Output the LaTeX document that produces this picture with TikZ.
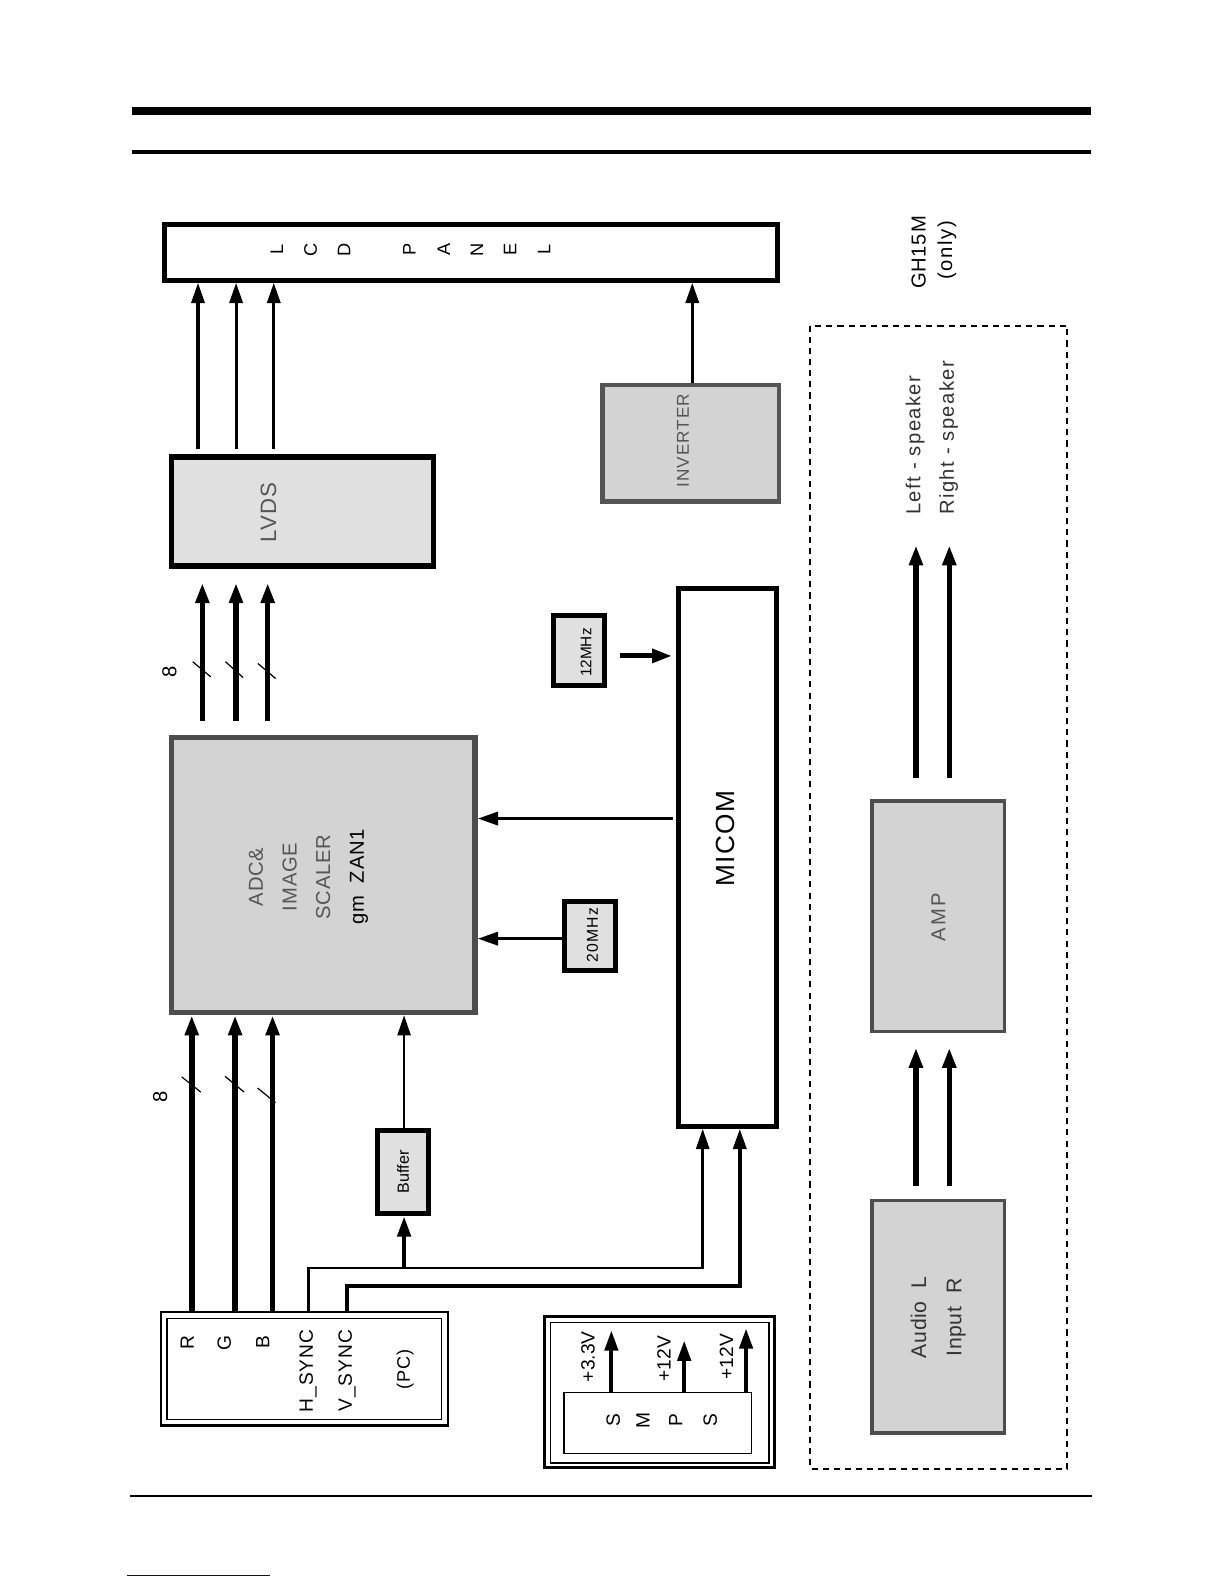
\documentclass[tikz,border=0pt]{standalone}
\usepackage{fontspec}
\setmainfont{Liberation Sans}
\usetikzlibrary{arrows.meta,calc}
\definecolor{boxgray}{HTML}{D3D3D3}
\definecolor{lightbox}{HTML}{E0E0E0}
\definecolor{edgegray}{HTML}{4D4D4D}
\definecolor{txtgray}{HTML}{555555}
\definecolor{txtdark}{HTML}{333333}
\begin{document}
\begin{tikzpicture}[x=0.5pt,y=-0.5pt,
  box/.style={draw, rectangle, inner sep=0pt},
  blkbox/.style={box, line width=2.5pt},
  graybox/.style={box, draw=edgegray, fill=boxgray},
  smallbox/.style={box, line width=2.5pt, fill=lightbox},
  lbl/.style={inner sep=0pt, rotate=90},
  arr/.style={-{Triangle[length=10pt,width=6.5pt]}},
  thinarr/.style={arr, line width=1.5pt},
  thickarr/.style={arr, line width=2.75pt},
  slash/.style={line width=0.6pt},
  letterfont/.style={font=\fontsize{9}{9}\selectfont}
]
\useasboundingbox (0,0) rectangle (1212,1568);
\fill[white] (0,0) rectangle (1212,1568);

% page rules
\draw[line width=4pt] (130.7,110) -- (1080,110);
\draw[line width=2pt] (130.7,150.5) -- (1080,150.5);
\draw[line width=1.25pt] (128.8,1481) -- (1081,1481);
\draw[line width=0.5pt, blue!70!black] (126,1559.6) -- (267,1559.6);

% boxes
\node[blkbox, minimum width=303pt, minimum height=27.75pt] (lcd) at (466.25,249.75) {};
\node[box, line width=2.75pt, fill=lightbox, minimum width=129.75pt, minimum height=54pt] (lvds) at (299.5,506.25) {};
\node[graybox, line width=2.25pt, draw=txtgray, minimum width=87.5pt, minimum height=57.5pt] (inverter) at (683.75,438.75) {};
\node[graybox, line width=2.75pt, minimum width=150.25pt, minimum height=136pt] (adc) at (320,866.25) {};
\node[blkbox, minimum width=48.25pt, minimum height=266pt] (micom) at (720.25,849) {};
\node[smallbox, minimum width=25.25pt, minimum height=35pt] (mhz12) at (572.75,644) {};
\node[smallbox, minimum width=25.25pt, minimum height=34pt] (mhz20) at (583.75,926.5) {};
\node[smallbox, minimum width=25.5pt, minimum height=41pt] (buffer) at (399,1160.5) {};
\node[box, line width=1.25pt, minimum width=142pt, minimum height=56.25pt] (pc) at (301.25,1355) {};
\node[box, line width=0.6pt, minimum width=136pt, minimum height=50pt] (pcin) at (301.25,1355.25) {};
\node[box, line width=1.5pt, minimum width=113.75pt, minimum height=74.75pt] (smpsout) at (652.75,1378.25) {};
\node[box, line width=0.6pt, minimum width=108pt, minimum height=69.5pt] (smpsin) at (653.25,1378.75) {};
\node[box, line width=0.6pt, minimum width=93pt, minimum height=30pt] (smps) at (651.25,1408.5) {};
\draw[line width=1pt, dash pattern=on 3pt off 2.5pt] (802,322.5) rectangle (1056.5,1454);
\node[graybox, line width=1.75pt, minimum width=65.5pt, minimum height=114.25pt] (amp) at (928.75,907) {};
\node[graybox, line width=1.75pt, minimum width=65.5pt, minimum height=115pt] (audio) at (928.75,1303.25) {};

% texts
\foreach \ch/\xx [count=\i] in {L/274,C/307.4,D/340.7,P/405.2,A/439.4,N/472,E/505,L/538.6}
  \node[lbl, letterfont] (lcdt\i) at (\xx,247) {\ch};
\node[lbl, text=txtgray, font=\fontsize{11}{11}\selectfont\addfontfeatures{LetterSpace=4}] (lvdst) at (265.7,507.5) {LVDS};
\node[lbl, text=txtgray, font=\fontsize{8.5}{8.5}\selectfont\addfontfeatures{LetterSpace=6}] (invt) at (676,436) {INVERTER};
\node[lbl, align=center, font=\fontsize{10}{16.7}\selectfont\addfontfeatures{LetterSpace=4}] (adct) at (305.3,868)
  {\textcolor{txtgray}{ADC\&}\\\textcolor{txtgray}{IMAGE}\\\textcolor{txtgray}{SCALER}\\gm\ \ ZAN1};
\node[lbl, font=\fontsize{13}{13}\selectfont\addfontfeatures{LetterSpace=6}] (micomt) at (717.7,830) {MICOM};
\node[lbl, font=\fontsize{7.6}{7.6}\selectfont] (mhz12t) at (580,646) {12MHz};
\node[lbl, font=\fontsize{7.8}{7.8}\selectfont\addfontfeatures{LetterSpace=8}] (mhz20t) at (586.5,926) {20MHz};
\node[lbl, font=\fontsize{8}{8}\selectfont] (buffert) at (399,1160) {Buffer};
\node[lbl, font=\fontsize{9.5}{9.5}\selectfont] (rt) at (185.3,1329) {R};
\node[lbl, font=\fontsize{9.5}{9.5}\selectfont] (gt) at (222,1329) {G};
\node[lbl, font=\fontsize{9.5}{9.5}\selectfont] (bt) at (260,1329) {B};
\node[lbl, font=\fontsize{9.5}{9.5}\selectfont\addfontfeatures{LetterSpace=5}] (hst) at (305,1357) {H\_SYNC};
\node[lbl, font=\fontsize{9.5}{9.5}\selectfont\addfontfeatures{LetterSpace=5}] (vst) at (343.6,1357) {V\_SYNC};
\node[lbl, font=\fontsize{9}{9}\selectfont\addfontfeatures{LetterSpace=5}] (pct) at (401,1356) {(PC)};
\foreach \ch/\xx [count=\i] in {S/607,M/636.4,P/669,S/703}
  \node[lbl, font=\fontsize{9.5}{9.5}\selectfont] (smpst\i) at (\xx,1406) {\ch};
\node[lbl, font=\fontsize{9.5}{9.5}\selectfont] (v33) at (582,1343) {+3.3V};
\node[lbl, font=\fontsize{9.5}{9.5}\selectfont] (v12a) at (657.3,1345) {+12V};
\node[lbl, font=\fontsize{9.5}{9.5}\selectfont] (v12b) at (719,1343) {+12V};
\node[lbl, font=\fontsize{10}{10}\selectfont\addfontfeatures{LetterSpace=4}] (ght) at (909.3,250) {GH15M};
\node[lbl, font=\fontsize{10}{10}\selectfont\addfontfeatures{LetterSpace=8}] (onlyt) at (937.4,247.6) {(only)};
\node[lbl, anchor=west, text=txtdark, font=\fontsize{10}{10}\selectfont\addfontfeatures{LetterSpace=7}] (lspk) at (906,510) {Left - speaker};
\node[lbl, anchor=west, text=txtdark, font=\fontsize{10}{10}\selectfont\addfontfeatures{LetterSpace=7}] (rspk) at (939,510) {Right - speaker};
\node[lbl, text=txtgray, font=\fontsize{10}{10}\selectfont\addfontfeatures{LetterSpace=12}] (ampt) at (929,907.7) {AMP};
\node[lbl, text=txtdark, font=\fontsize{10.5}{10.5}\selectfont\addfontfeatures{LetterSpace=3}] (audt1) at (909.3,1304) {Audio\ \ L};
\node[lbl, text=txtdark, font=\fontsize{10.5}{10.5}\selectfont\addfontfeatures{LetterSpace=3}] (audt2) at (946.6,1304) {Input\ \ R};
\node[lbl, font=\fontsize{10}{10}\selectfont] (eight1) at (167.7,665) {8};
\node[lbl, font=\fontsize{10}{10}\selectfont] (eight2) at (158.5,1086) {8};

% LVDS -> LCD
\foreach \xx in {196,233.7,271}
  \draw[thinarr, shorten <=2.5pt] (\xx,0 |- lvds.north) -- (\xx,0 |- lcd.south);
% inverter -> LCD
\draw[thinarr] (685.3,0 |- inverter.north) -- (685.3,0 |- lcd.south);
% ADC -> LVDS
\foreach \xx in {200.3,233.6,265}
  \draw[thickarr, shorten <=7pt, shorten >=7pt] (\xx,0 |- adc.north) -- (\xx,0 |- lvds.south);
\draw[slash] (190.7,655) -- (208.6,670);
\draw[slash] (223.2,655) -- (240.6,670.7);
\draw[slash] (255.3,656.8) -- (272.8,671.7);
% PC -> ADC
\foreach \xx in {189.8,232.7,269.8}
  \draw[thickarr] (\xx,0 |- pc.north) -- (\xx,0 |- adc.south);
\draw[slash] (179.9,1066) -- (198.7,1081);
\draw[slash] (222.8,1065.5) -- (241.6,1081);
\draw[slash] (255,1077) -- (272.7,1091.5);
% buffer
\coordinate (htap) at (400,1255);
\draw[arr, line width=1.1pt] (400,0 |- buffer.north) -- (400,0 |- adc.south);
\draw[arr, line width=2.1pt] (htap) -- (400,0 |- buffer.south);
% H_SYNC / V_SYNC -> MICOM
\draw[arr, line width=1.25pt] (305.3,0 |- pc.north) -- (305.3,1255) -- (695.6,1255) -- (695.6,0 |- micom.south);
\draw[arr, line width=1.75pt] (343.6,0 |- pc.north) -- (343.6,1273) -- (732.3,1273) -- (732.3,0 |- micom.south);
% MICOM -> ADC, 20MHz -> ADC, 12MHz -> MICOM
\draw[thinarr, shorten <=1.5pt] (0,810.3 -| micom.west) -- (0,810.3 -| adc.east);
\draw[thinarr] (0,929.2 -| mhz20.west) -- (0,929.2 -| adc.east);
\draw[arr, line width=2.5pt, shorten <=6.5pt, shorten >=2pt] (0,649.3 -| mhz12.east) -- (0,649.3 -| micom.west);
% SMPS outputs
\coordinate (o33) at (605.2,1317);
\coordinate (o12a) at (677.3,1327);
\coordinate (o12b) at (738.5,1315);
\draw[arr, line width=2pt] (605.2,0 |- smps.north) -- (o33);
\draw[arr, line width=2pt] (677.3,0 |- smps.north) -- (o12a);
\draw[arr, line width=2pt] (738.5,0 |- smps.north) -- (o12b);
% audio section
\coordinate (spkL) at (906.7,539.7);
\coordinate (spkR) at (939.7,539.7);
\draw[thickarr, shorten <=10.5pt] (906.7,0 |- amp.north) -- (spkL);
\draw[thickarr, shorten <=10.5pt] (939.7,0 |- amp.north) -- (spkR);
\foreach \xx in {906.7,939.7}
  \draw[thickarr, shorten <=6pt, shorten >=7pt] (\xx,0 |- audio.north) -- (\xx,0 |- amp.south);
\end{tikzpicture}
\end{document}
